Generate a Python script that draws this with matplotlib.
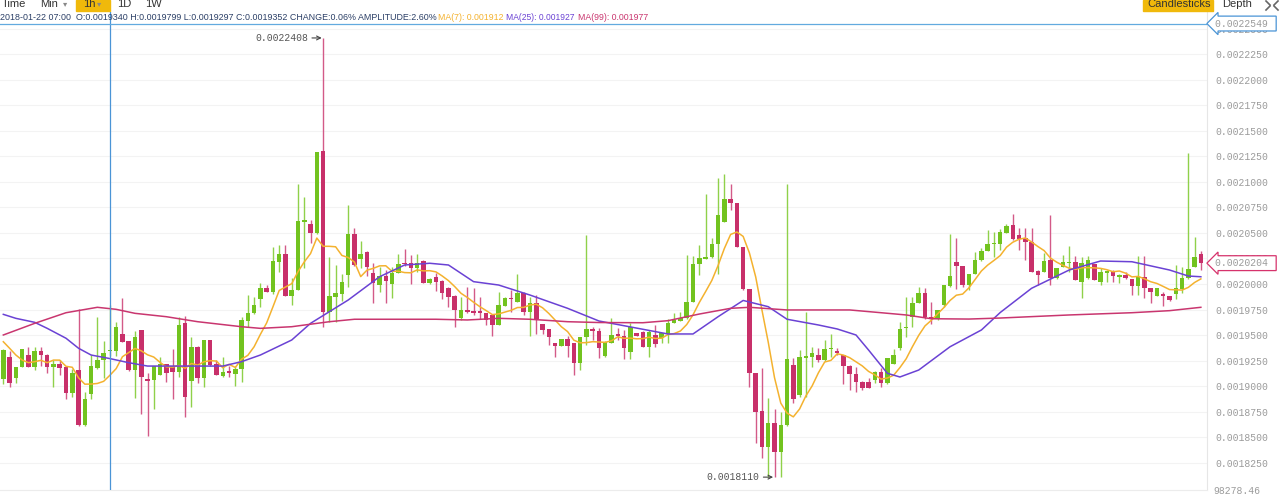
import numpy as np
import pandas as pd
import matplotlib
matplotlib.use('Agg')
import matplotlib.pyplot as plt
import matplotlib.transforms as mtransforms
from matplotlib.patches import Rectangle
from matplotlib.lines import Line2D

# 1h candles, prices in units of 1e-7 (19340 -> 0.0019340)
opens = [
    19067, 19282, 19077, 19190, 19308, 19190, 19344, 19308, 19190, 19214,
    19184, 18936, 19158, 18620, 18920, 19181, 19256, 19340, 19347, 19510,
    19442, 19158, 19550, 19067, 19060, 19109, 19217, 19197, 19136, 19615,
    19050, 19386, 19077, 19452, 19214, 19099, 19151, 19116, 19165, 19641,
    19713, 19850, 19958, 19925, 20218, 20294, 19885, 19941, 20610, 20587,
    20496, 21302, 19729, 19876, 19902, 20088, 20490, 20245, 20316, 20105,
    19990, 20078, 20000, 20111, 20210, 20203, 20154, 20228, 20007, 20066,
    20029, 19964, 19883, 19664, 19745, 19739, 19736, 19713, 19697, 19599,
    19785, 19866, 19827, 19915, 19729, 19817, 19608, 19559, 19419, 19393,
    19459, 19419, 19224, 19478, 19559, 19540, 19298, 19425, 19508, 19494,
    19337, 19517, 19533, 19386, 19501, 19468, 19508, 19621, 19641, 19664,
    19827, 20193, 20242, 20261, 20392, 20610, 20832, 20790, 20359, 19948,
    19126, 18760, 18401, 18642, 18358, 18620, 19207, 18913, 19273, 19288,
    19305, 19256, 19361, 19344, 19305, 19200, 19116, 19044, 19044, 19060,
    19141, 19028, 19217, 19371, 19566, 19677, 19817, 19915, 19680, 19655,
    19794, 19980, 20218, 20176, 19990, 20098, 20235, 20326, 20389, 20392,
    20504, 20578, 20480, 20447, 20414, 20130, 20120, 20235, 20056, 20169,
    20203, 20218, 20023, 20056, 20196, 20023, 20111, 20127, 20071, 20088,
    20046, 19980, 20071, 19958, 19883, 19902, 19883, 19902, 19948, 20056,
    20169, 20291,
]
highs = [
    19361, 19347, 19187, 19364, 19386, 19386, 19386, 19315, 19256, 19256,
    19190, 19165, 19752, 18946, 19305, 19674, 19445, 19799, 19631, 19860,
    19445, 19543, 19553, 19126, 19200, 19288, 19220, 19361, 19674, 19687,
    19478, 19390, 19455, 19455, 19256, 19285, 19197, 19197, 19680, 19892,
    19876, 20007, 19990, 20365, 20382, 20382, 20056, 20979, 20849, 20627,
    21295, 22408, 20267, 20186, 20095, 20773, 20545, 20424, 20320, 20203,
    20169, 20137, 20169, 20291, 20340, 20284, 20294, 20235, 20056, 20111,
    20035, 19970, 19890, 19876, 19974, 19958, 19876, 19720, 19700, 19925,
    19870, 19941, 20095, 19920, 19876, 19892, 19612, 19562, 19422, 19462,
    19491, 19422, 19482, 20480, 19582, 19566, 19440, 19664, 19566, 19550,
    19615, 19520, 19540, 19550, 19599, 19520, 19655, 19713, 19729, 20284,
    20274, 20382, 20881, 20447, 21035, 21077, 20979, 20795, 20362, 19950,
    19130, 19175, 18881, 18773, 18750, 20979, 19273, 19354, 19729, 19386,
    19371, 19452, 19510, 19371, 19310, 19205, 19190, 19054, 19077, 19151,
    19175, 19280, 19361, 19631, 19876, 19876, 19968, 19958, 19827, 19750,
    19995, 20487, 20447, 20180, 20100, 20316, 20350, 20529, 20512, 20536,
    20587, 20685, 20545, 20545, 20545, 20135, 20301, 20676, 20160, 20284,
    20372, 20274, 20267, 20274, 20200, 20154, 20137, 20137, 20095, 20117,
    20050, 20274, 20274, 19960, 19960, 19925, 19885, 20186, 20169, 21280,
    20463, 20326,
]
lows = [
    19021, 18995, 19031, 19187, 19184, 19158, 19197, 19132, 18989, 19109,
    18871, 18891, 18615, 18615, 18871, 19165, 19077, 19297, 19295, 19430,
    19151, 18881, 18724, 18512, 18773, 19105, 19044, 18871, 19092, 18701,
    18799, 19031, 18989, 19197, 19105, 19092, 19087, 19001, 19044, 19576,
    19710, 19778, 19922, 19902, 20120, 19880, 19794, 19938, 20160, 20398,
    20490, 19582, 19631, 19631, 19837, 19974, 20180, 20154, 20078, 19811,
    19925, 19811, 19860, 20105, 20176, 20000, 20120, 20007, 20000, 19934,
    19850, 19778, 19582, 19648, 19713, 19697, 19655, 19599, 19491, 19595,
    19780, 19729, 19820, 19697, 19491, 19510, 19510, 19403, 19288, 19390,
    19288, 19109, 19158, 19403, 19452, 19273, 19288, 19419, 19452, 19263,
    19263, 19488, 19380, 19288, 19386, 19419, 19419, 19615, 19638, 19660,
    19825, 20088, 20240, 20258, 20098, 20605, 20724, 20360, 19945, 18995,
    18440, 18294, 18113, 18110, 18113, 18615, 18832, 18894, 18891, 19190,
    19239, 19250, 19288, 19305, 19021, 18962, 18943, 18962, 18979, 19028,
    18995, 19025, 19214, 19354, 19484, 19579, 19815, 19655, 19608, 19650,
    19778, 19968, 19948, 19974, 19941, 20095, 20230, 20320, 20267, 20333,
    20500, 20431, 20333, 20235, 20115, 19990, 20115, 19990, 20046, 20165,
    20120, 20035, 19860, 20050, 20035, 19990, 20023, 20023, 20007, 20050,
    19892, 19892, 19860, 19811, 19880, 19788, 19838, 19853, 19909, 20050,
    20165, 20137,
]
closes = [
    19354, 19034, 19184, 19361, 19190, 19344, 19305, 19190, 19214, 19181,
    18936, 19126, 18620, 18871, 19197, 19256, 19327, 19352, 19582, 19435,
    19158, 19478, 19092, 19053, 19197, 19217, 19132, 19136, 19599, 18891,
    19386, 19077, 19452, 19207, 19109, 19141, 19126, 19171, 19648, 19713,
    19794, 19958, 19925, 20225, 20294, 19885, 19941, 20617, 20627, 20496,
    21289, 19729, 19883, 19909, 20023, 20487, 20186, 20291, 20169, 20007,
    20078, 20032, 20105, 20196, 20196, 20154, 20203, 20013, 20046, 20023,
    19915, 19876, 19745, 19745, 19729, 19719, 19719, 19648, 19599, 19794,
    19866, 19853, 19909, 19729, 19811, 19655, 19550, 19478, 19393, 19459,
    19393, 19224, 19478, 19559, 19543, 19371, 19435, 19501, 19494, 19376,
    19576, 19491, 19386, 19533, 19410, 19517, 19621, 19648, 19667, 19827,
    20196, 20252, 20261, 20389, 20676, 20832, 20790, 20365, 19948, 19126,
    18750, 18401, 18636, 18358, 18620, 19263, 18871, 19288, 19295, 19322,
    19256, 19361, 19376, 19322, 19197, 19116, 19038, 18979, 18985, 19141,
    19028, 19273, 19305, 19562, 19582, 19817, 19915, 19674, 19655, 19745,
    19990, 20078, 20176, 19990, 20098, 20235, 20326, 20392, 20398, 20509,
    20563, 20438, 20438, 20414, 20120, 20088, 20228, 20056, 20154, 20218,
    20218, 20039, 20203, 20235, 20039, 20120, 20127, 20078, 20088, 20056,
    19980, 20071, 19958, 19925, 19958, 19885, 19843, 19958, 20056, 20144,
    20261, 20204,
]

# MA(7) for the first candles (earlier data not on screen)
ma7_head = [19435, 19371, 19305, 19256, 19230, 19240]

# MA(25) / MA(99) at some candle indices
ma25_idx = [0, 2, 5, 7, 10, 12, 14, 17, 20, 23, 29, 35, 38, 41, 46, 49, 52, 55,
            60, 64, 68, 71, 75, 79, 84, 90, 95, 102, 106, 110, 114, 118, 122,
            125, 130, 133, 136, 138, 141, 143, 146, 151, 156, 159, 164, 170,
            175, 180, 186, 189, 191]
ma25_val = [19703, 19664, 19625, 19566, 19469, 19371, 19305, 19270, 19230, 19197,
            19197, 19197, 19240, 19305, 19452, 19615, 19729, 19843, 20071, 20186,
            20203, 20186, 20023, 19990, 19892, 19762, 19638, 19557, 19511, 19511,
            19680, 19839, 19778, 19655, 19599, 19560, 19501, 19354, 19126, 19090,
            19158, 19386, 19550, 19721, 19958, 20137, 20225, 20218, 20137, 20078,
            20071]
ma99_idx = [0, 5, 10, 15, 18, 21, 26, 31, 38, 41, 46, 52, 56, 69, 74, 79, 84, 90,
            95, 102, 106, 111, 116, 119, 125, 135, 140, 144, 148, 154, 159, 170,
            180, 186, 191]
ma99_val = [19501, 19615, 19719, 19772, 19752, 19713, 19680, 19631, 19582, 19566,
            19582, 19631, 19655, 19655, 19648, 19664, 19655, 19631, 19623, 19621,
            19641, 19706, 19762, 19772, 19746, 19746, 19719, 19697, 19660, 19657,
            19667, 19697, 19719, 19739, 19772]

hover_idx = 17
hover_price = 22549
last_price = 20204
high_idx, high_price = 51, 22408
low_idx, low_price = 123, 18110
header = ('2018-01-22 07:00  O:0.0019340 H:0.0019799 L:0.0019297 C:0.0019352 '
          'CHANGE:0.06% AMPLITUDE:2.60%')
ma_labels = ['MA(7): 0.001912', 'MA(25): 0.001927', 'MA(99): 0.001977']

GREEN = '#72c31f'
RED = '#c8306a'
GREEN_W = '#8fd14a'
RED_W = '#d35a88'
ORANGE = '#f4b22f'
PURPLE = '#6a42d4'
CRIMSON = '#c9366f'
BLUE = '#4a94d6'
YELLOW = '#f0b90b'

W, H = 1280, 494
S = 1e-7

fig = plt.figure(figsize=(W / 100, H / 100), dpi=100)
fig.patch.set_facecolor('white')
ax = fig.add_axes([0, 4 / H, 1207 / W, 478 / H])

o = np.array(opens) * S
h = np.array(highs) * S
l = np.array(lows) * S
c = np.array(closes) * S
x = np.arange(len(o))
up = c >= o

ax.vlines(x, l, h, colors=np.where(up, GREEN_W, RED_W), lw=1, zorder=2)
ax.bar(x, np.maximum(np.abs(c - o), 8 * S), bottom=np.minimum(o, c),
       width=0.72, color=np.where(up, GREEN, RED), lw=0, zorder=3)

ma7 = pd.Series(closes, dtype=float).rolling(7).mean().to_numpy()
ma7[:len(ma7_head)] = ma7_head
ax.plot(x, ma7 * S, color=ORANGE, lw=1.1, zorder=4)
ax.plot(ma25_idx, np.array(ma25_val) * S, color=PURPLE, lw=1.1, zorder=4)
ax.plot(ma99_idx, np.array(ma99_val) * S, color=CRIMSON, lw=1.1, zorder=4)

ax.set_xlim(-0.53, 191.98)
ax.set_ylim(17984 * S, 22662 * S)

ticks = np.arange(18250, 22501, 250) * S
ax.yaxis.tick_right()
ax.set_yticks(ticks)
ax.set_yticklabels([f'{t:.7f}' for t in ticks])
ax.tick_params(axis='y', length=0, pad=6, labelsize=7, labelcolor='#9b9b9b')
for lbl in ax.get_yticklabels():
    lbl.set_fontfamily('Liberation Mono')
ax.set_xticks([])
ax.grid(axis='y', color='#f3f3f3', lw=0.8)
ax.set_axisbelow(True)
for side in ['top', 'left']:
    ax.spines[side].set_visible(False)
ax.spines['right'].set_color('#e6e6e6')
ax.spines['bottom'].set_color('#ececec')

# crosshair
ax.axvline(hover_idx, color=BLUE, lw=0.9, zorder=5)
ax.axhline(hover_price * S, color='#62aadf', lw=0.9, zorder=5)

# price tags on the right axis
tr = mtransforms.blended_transform_factory(ax.transAxes, ax.transData)
for p, ec in [(hover_price, BLUE), (last_price, '#d6336c')]:
    ax.text(1 + 8 / 1207, p * S, f'{p * S:.7f} ', transform=tr, ha='left',
            va='center', fontsize=7, family='Liberation Mono', color='#9b9b9b',
            bbox=dict(boxstyle='larrow,pad=0.25', fc='white', ec=ec, lw=0.9),
            clip_on=False, zorder=6)

# max / min markers
for i, p in [(high_idx, high_price), (low_idx, low_price)]:
    ax.annotate(f'{p * S:.7f}', xy=(i, p * S), xytext=(-11, 0),
                textcoords='offset points', ha='right', va='center',
                fontsize=7, family='Liberation Mono', color='#555555',
                arrowprops=dict(arrowstyle='->', color='#444444', lw=0.8,
                                shrinkA=1, shrinkB=1), zorder=6)

renderer = fig.canvas.get_renderer()


def fig_text(x_px, y_px, s, width_px=None, **kw):
    t = fig.text(x_px / W, 1 - y_px / H, s, **kw)
    if width_px:
        w = t.get_window_extent(renderer).width
        t.set_fontsize(t.get_fontsize() * width_px / w)
    return t


# info line
fig_text(0, 18, header, width_px=433, fontsize=7, color='#2b3f66',
         family='Liberation Sans', va='center')
for xp, wp, s, col in zip([438, 506, 578], [65, 68, 70], ma_labels,
                          [ORANGE, PURPLE, CRIMSON]):
    fig_text(xp, 18, s, width_px=wp, fontsize=7, color=col,
             family='Liberation Sans', va='center')

# toolbar
fig.add_artist(Rectangle((76 / W, 1 - 11 / H), 34 / W, 11 / H, color=YELLOW,
                         transform=fig.transFigure))
fig.add_artist(Rectangle((1143 / W, 1 - 11 / H), 70 / W, 11 / H, color=YELLOW,
                         transform=fig.transFigure))
tb = dict(fontsize=8, color='#333333', family='Liberation Sans', va='center')
for xp, s in [(2, 'Time'), (40, 'Min'), (83, '1h'), (117, '1D'), (145, '1W'),
              (1147, 'Candlesticks'), (1222, 'Depth')]:
    fig_text(xp, 4, s, **tb)
for xp in [63, 97]:
    fig_text(xp, 4, '▾', fontsize=6, color='#888888', va='center',
             family='DejaVu Sans')
for (x0, y0, x1, y1) in [(1266, 1, 1270, 5), (1278, 1, 1274, 5),
                         (1266, 10, 1270, 6), (1278, 10, 1274, 6)]:
    fig.add_artist(Line2D([x0 / W, x1 / W], [1 - y0 / H, 1 - y1 / H],
                          color='#666666', lw=1.2, transform=fig.transFigure))

fig_text(1213, 491, '98278.46', fontsize=7, color='#9b9b9b',
         family='Liberation Mono', va='center')

fig.savefig('out.png', dpi=100, facecolor='white')
